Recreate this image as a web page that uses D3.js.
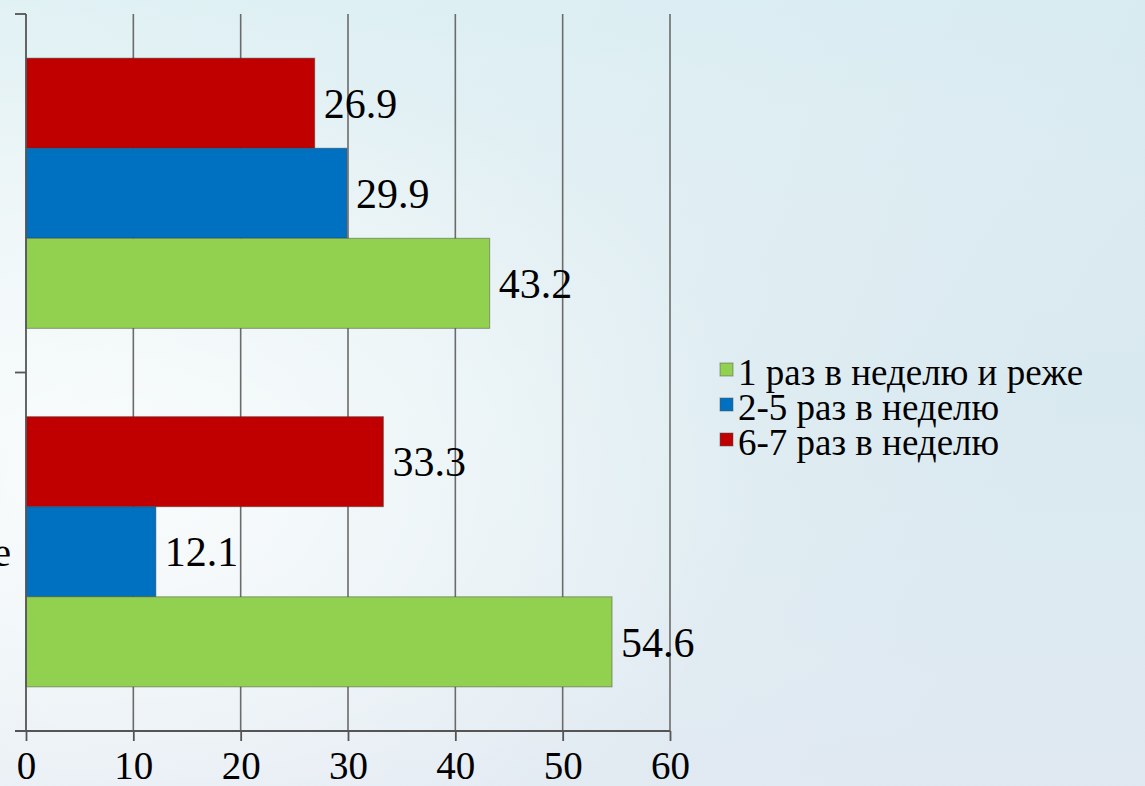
<!DOCTYPE html>
<html>
<head>
<meta charset="utf-8">
<script src="https://cdn.jsdelivr.net/npm/d3@7"></script>
</head>
<body style="margin:0">
<svg id="chart" width="1145" height="786"></svg>
<script>
// categories, top to bottom (label lines)
var categories = ["cat2", "cat1"];
var categoryLines = [["Дети", "в селе"], ["Дети в городе"]];

// series, top to bottom inside each group
var seriesNames = ["6-7 раз в неделю", "2-5 раз в неделю", "1 раз в неделю и реже"];
var seriesColors = ["#c00000", "#0070c0", "#92d050"];
var values67 = [26.9, 33.3];
var values25 = [29.9, 12.1];
var values1 = [43.2, 54.6];

var xTicks = [0, 10, 20, 30, 40, 50, 60];

// legend order (as in the picture)
var legendOrder = [2, 1, 0];

var FONT = "'Liberation Serif', monospace";

var width = 1145, height = 786;
var plotLeft = 26, plotRight = 670, plotTop = 14, plotBottom = 731;

var svg = d3.select("#chart").style("display", "block");

// background
var defs = svg.append("defs");
var lg = defs.append("linearGradient").attr("id", "bg")
    .attr("x1", "0").attr("y1", "0").attr("x2", "1").attr("y2", "0.3");
lg.append("stop").attr("offset", "0").attr("stop-color", "#eef7f7");
lg.append("stop").attr("offset", "1").attr("stop-color", "#d9e9f0");
var lg2 = defs.append("linearGradient").attr("id", "bg2")
    .attr("x1", "0").attr("y1", "0").attr("x2", "0").attr("y2", "1");
lg2.append("stop").attr("offset", "0").attr("stop-color", "#d4ecf2").attr("stop-opacity", 0.5);
lg2.append("stop").attr("offset", "0.5").attr("stop-color", "#e6eef3").attr("stop-opacity", 0);
lg2.append("stop").attr("offset", "1").attr("stop-color", "#e4e8f2").attr("stop-opacity", 0.6);
var rg = defs.append("radialGradient").attr("id", "glow")
    .attr("cx", "0.12").attr("cy", "0.62").attr("r", "0.55");
rg.append("stop").attr("offset", "0").attr("stop-color", "#ffffff").attr("stop-opacity", 0.75);
rg.append("stop").attr("offset", "1").attr("stop-color", "#ffffff").attr("stop-opacity", 0);

svg.append("rect").attr("width", width).attr("height", height).attr("fill", "url(#bg)");
svg.append("rect").attr("width", width).attr("height", height).attr("fill", "url(#bg2)");
svg.append("rect").attr("width", width).attr("height", height).attr("fill", "url(#glow)");

var x = d3.scaleLinear().domain([0, 60]).range([plotLeft, plotRight]);
var y = d3.scaleBand().domain(categories).range([plotTop, plotBottom]);
var ySub = d3.scaleBand().domain(seriesNames).range([0, y.bandwidth()])
    .paddingInner(0).paddingOuter(0.49);

var seriesValues = [values67, values25, values1];

// gridlines
svg.append("g").selectAll("line")
    .data(xTicks.slice(1))
    .enter().append("line")
    .attr("x1", function(d) { return x(d); })
    .attr("x2", function(d) { return x(d); })
    .attr("y1", plotTop)
    .attr("y2", plotBottom)
    .attr("stroke", "#6b6b6b")
    .attr("stroke-width", 1.6);

// bars
var groups = svg.append("g").selectAll("g")
    .data(categories)
    .enter().append("g")
    .attr("transform", function(d) { return "translate(0," + y(d) + ")"; });

groups.each(function(cat, ci) {
    var g = d3.select(this);
    seriesNames.forEach(function(s, si) {
        var v = seriesValues[si][ci];
        g.append("rect")
            .attr("x", x(0))
            .attr("y", ySub(s))
            .attr("width", x(v) - x(0))
            .attr("height", ySub.bandwidth())
            .attr("fill", seriesColors[si])
            .attr("stroke", "rgba(60,60,60,0.45)")
            .attr("stroke-width", 1);
        g.append("text")
            .attr("x", x(v) + 9)
            .attr("y", ySub(s) + ySub.bandwidth() / 2)
            .attr("dy", "0.35em")
            .style("font-family", FONT)
            .attr("font-size", 42)
            .attr("fill", "#000")
            .text(v.toFixed(1));
    });
});

// left axis
var yAxis = svg.append("g");
yAxis.append("line")
    .attr("x1", plotLeft).attr("x2", plotLeft)
    .attr("y1", plotTop).attr("y2", plotBottom)
    .attr("stroke", "#555").attr("stroke-width", 1.8);
var yTickPos = [plotTop].concat(categories.map(function(c) { return y(c) + y.bandwidth(); }));
yAxis.selectAll(".ytick")
    .data(yTickPos)
    .enter().append("line")
    .attr("class", "ytick")
    .attr("x1", plotLeft - 11).attr("x2", plotLeft)
    .attr("y1", function(d) { return d; })
    .attr("y2", function(d) { return d; })
    .attr("stroke", "#555").attr("stroke-width", 1.8);

// category labels (centered lines in a box ending at x=11, mostly cut off)
var catLabels = svg.append("g").attr("fill", "#000");
function catText(sel) {
    return sel.style("font-family", FONT).attr("font-size", 40);
}
var maxW = 0;
var probe = catText(catLabels.append("text"));
categoryLines.forEach(function(lines) {
    lines.forEach(function(l) {
        probe.text(l);
        maxW = Math.max(maxW, probe.node().getComputedTextLength());
    });
});
probe.remove();
var cx = 11 - maxW / 2;
categories.forEach(function(c, i) {
    var lines = categoryLines[i];
    var mid = y(c) + y.bandwidth() / 2;
    var lh = 44;
    lines.forEach(function(l, li) {
        catText(catLabels.append("text"))
            .attr("x", cx)
            .attr("y", mid + (li - (lines.length - 1) / 2) * lh)
            .attr("dy", "0.35em")
            .attr("text-anchor", "middle")
            .text(l);
    });
});

// bottom axis
var xAxis = d3.axisBottom(x).tickValues(xTicks).tickSize(10).tickPadding(10)
    .tickFormat(d3.format("d"));
var xg = svg.append("g")
    .attr("transform", "translate(0," + plotBottom + ")")
    .call(xAxis);
xg.select(".domain").remove();
xg.append("line")
    .attr("x1", plotLeft - 11).attr("x2", plotRight)
    .attr("stroke", "#555").attr("stroke-width", 1.8);
xg.selectAll(".tick line").attr("stroke", "#555").attr("stroke-width", 1.8);
xg.selectAll(".tick text")
    .style("font-family", FONT)
    .attr("font-size", 39)
    .attr("fill", "#000")
    .attr("dy", "0.71em")
    .attr("y", 20);

// legend
var legend = svg.append("g");
legendOrder.forEach(function(si, i) {
    var base = 385 + i * 35;
    legend.append("rect")
        .attr("x", 720).attr("y", base - 22)
        .attr("width", 13).attr("height", 13)
        .attr("fill", seriesColors[si])
        .attr("stroke", "rgba(80,80,80,0.5)");
    legend.append("text")
        .attr("x", 738).attr("y", base)
        .style("font-family", FONT)
        .attr("font-size", 37)
        .attr("fill", "#000")
        .text(seriesNames[si]);
});
</script>
</body>
</html>
